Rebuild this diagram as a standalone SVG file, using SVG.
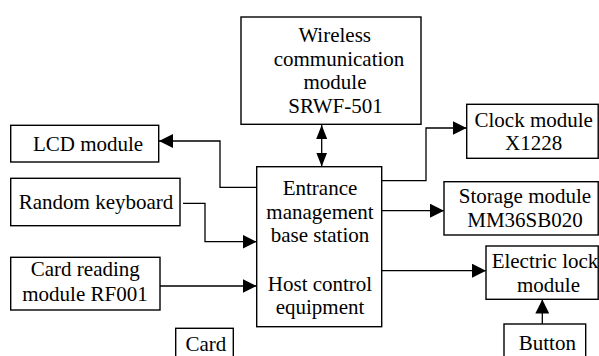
<svg xmlns="http://www.w3.org/2000/svg" width="599" height="356" viewBox="0 0 599 356">
  <style>
    .box { fill: #fff; stroke: #000; stroke-width: 1.4; }
    .lbl { font-family: "Liberation Serif", serif; font-size: 21px; fill: #000; text-anchor: middle; }
    .wire { fill: none; stroke: #000; stroke-width: 1.3; }
  </style>
  <defs>
    <marker id="arr" viewBox="0 0 14 14" refX="14" refY="7" markerWidth="14" markerHeight="14" markerUnits="userSpaceOnUse" orient="auto">
      <path d="M0,0 L14,7 L0,14 Z" fill="#000"/>
    </marker>
    <marker id="arrS" viewBox="0 0 14 11" refX="14" refY="5.5" markerWidth="14" markerHeight="11" markerUnits="userSpaceOnUse" orient="auto-start-reverse">
      <path d="M0,0 L14,5.5 L0,11 Z" fill="#000"/>
    </marker>
  </defs>

  <rect width="599" height="356" fill="#fff"/>

  <!-- connectors -->
  <g id="connectors">
    <path class="wire" d="M321.7,125 L321.7,166.5" marker-start="url(#arrS)" marker-end="url(#arrS)"/>
    <path class="wire" d="M257,187.3 L220,187.3 L220,141 L159,141" marker-end="url(#arr)"/>
    <path class="wire" d="M183,203.3 L205,203.3 L205,241.7 L256.5,241.7" marker-end="url(#arr)"/>
    <path class="wire" d="M160,286 L256.5,286" marker-end="url(#arr)"/>
    <path class="wire" d="M382,180.7 L426,180.7 L426,128 L466.5,128" marker-end="url(#arr)"/>
    <path class="wire" d="M382,210.7 L444,210.7" marker-end="url(#arr)"/>
    <path class="wire" d="M382,270.7 L486,270.7" marker-end="url(#arr)"/>
    <path class="wire" d="M542.3,324 L542.3,299.5" marker-end="url(#arr)"/>
  </g>

  <g font-family="Liberation Serif, serif">
  <g id="wireless">
    <rect class="box" x="241" y="17" width="180" height="107.3"/>
    <text class="lbl" x="334.7" y="41.7">Wireless</text>
    <text class="lbl" x="339" y="65.5">communication</text>
    <text class="lbl" x="335" y="89.2">module</text>
    <text class="lbl" x="335.5" y="112.7">SRWF-501</text>
  </g>

  <g id="lcd">
    <rect class="box" x="10.7" y="125.3" width="148" height="36.7"/>
    <text class="lbl" x="88" y="150.7">LCD module</text>
  </g>

  <g id="keyboard">
    <rect class="box" x="10.7" y="178.3" width="169.3" height="47.4"/>
    <text class="lbl" x="96" y="209.3">Random keyboard</text>
  </g>

  <g id="cardreader">
    <rect class="box" x="10.7" y="257.3" width="149.3" height="52.7"/>
    <text class="lbl" x="85.3" y="276">Card reading</text>
    <text class="lbl" x="85" y="301">module RF001</text>
  </g>

  <g id="station">
    <rect class="box" x="256.7" y="166.7" width="125" height="160"/>
    <text class="lbl" x="320" y="195">Entrance</text>
    <text class="lbl" x="320" y="218.5">management</text>
    <text class="lbl" x="320" y="241.7">base station</text>
    <text class="lbl" x="320" y="291">Host control</text>
    <text class="lbl" x="320" y="314.3">equipment</text>
  </g>

  <g id="card">
    <rect class="box" x="175.7" y="328.3" width="57.6" height="40"/>
    <text class="lbl" x="205.8" y="350.5">Card</text>
  </g>

  <g id="clock">
    <rect class="box" x="466.7" y="104.3" width="131.5" height="54"/>
    <text class="lbl" x="533.7" y="126.7">Clock module</text>
    <text class="lbl" x="533.7" y="150">X1228</text>
  </g>

  <g id="storage">
    <rect class="box" x="444" y="181.7" width="154.2" height="53.3"/>
    <text class="lbl" x="525" y="203.3">Storage module</text>
    <text class="lbl" x="525" y="226.7">MM36SB020</text>
  </g>

  <g id="lock">
    <rect class="box" x="486" y="246" width="112.2" height="53.3"/>
    <text class="lbl" x="545" y="268.3">Electric lock</text>
    <text class="lbl" x="548.5" y="291.7">module</text>
  </g>

  <g id="button">
    <rect class="box" x="504" y="324" width="81.7" height="44"/>
    <text class="lbl" x="547.3" y="350">Button</text>
  </g>
  </g>
</svg>
